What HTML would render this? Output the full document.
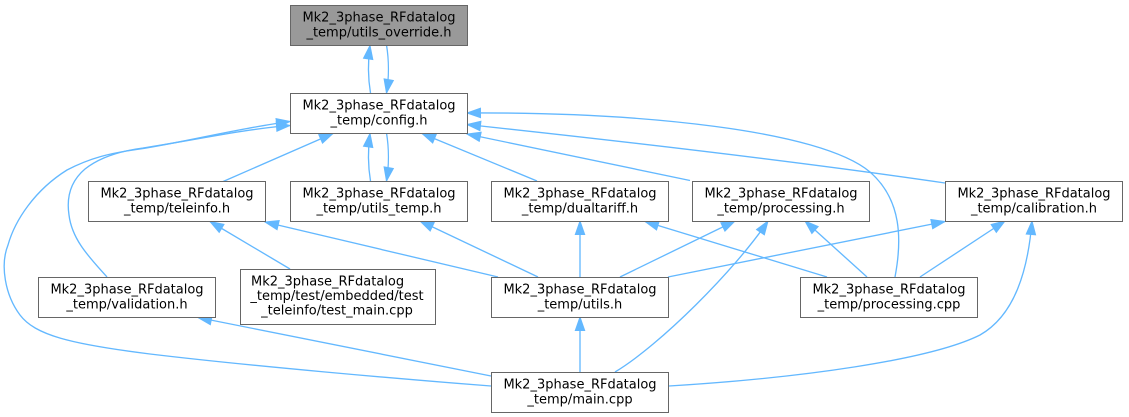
<!DOCTYPE html>
<html>
<head>
<meta charset="utf-8">
<style>
html,body{margin:0;padding:0;background:#fff;}
svg{display:block;}
text{font-family:"DejaVu Sans","Liberation Sans",sans-serif;font-size:13px;fill:#000;}
</style>
</head>
<body>
<svg width="1129" height="417" viewBox="0 0 1129 417" xmlns="http://www.w3.org/2000/svg">
<defs>
<marker id="a" markerWidth="16" markerHeight="12" refX="13.5" refY="4.7" orient="auto" markerUnits="userSpaceOnUse" overflow="visible">
<path d="M0,0 L13.5,4.7 L0,9.4 Z" fill="#63b8ff" stroke="#63b8ff" stroke-width="1"/>
</marker>
</defs>
<rect width="1129" height="417" fill="#fff"/>
<g fill="none" stroke="#63b8ff" stroke-width="1.33" marker-end="url(#a)">
<!-- config <-> utils_override -->
<path d="M370.5,93 C 368,78 368,60 370,45.5"/>
<path d="M386.5,45 C 389,60 389,78 386.5,93"/>
<!-- utils_temp <-> config -->
<path d="M370.5,181 C 368,166 368,148 370,133.5"/>
<path d="M386.5,133 C 389,148 389,166 386.5,181"/>
<!-- teleinfo -> config -->
<path d="M222,182 L333,133.5"/>
<!-- dualtariff -> config -->
<path d="M537,181 L422,133.5"/>
<!-- processing.h -> config -->
<path d="M690,180.5 L467,134"/>
<!-- calibration -> config -->
<path d="M945,183 Q 760,156 467,124.5"/>
<!-- processing.cpp -> config -->
<path d="M895,277 C 902,240 902,200 870,172 C 820,130 640,112 467,113"/>
<!-- validation -> config -->
<path d="M107,277 C 90,258 72,240 69,215 C 66,195 72,180 85,169 C 100,157 120,151 143,148 C 195,140 245,129 290,125.5"/>
<!-- main -> config -->
<path d="M491,386 C 400,379 250,366 150,354 C 70,344 35,335 20,315 C 5,295 0,265 8,245 C 15,220 35,190 67,170 C 90,158 110,153 140,149 C 190,141 240,128 290,121.5"/>
<!-- utils.h -> teleinfo -->
<path d="M498,277 L265,222"/>
<!-- test_main -> teleinfo -->
<path d="M290,269 L210,221.5"/>
<!-- utils.h -> utils_temp -->
<path d="M538,277 L420,221"/>
<!-- utils.h -> dualtariff -->
<path d="M580,277 L580,221"/>
<!-- utils.h -> processing.h -->
<path d="M620,277 L735,221"/>
<!-- utils.h -> calibration -->
<path d="M668,277 L945,221.5"/>
<!-- processing.cpp -> dualtariff -->
<path d="M827,277 L645,221.5"/>
<!-- processing.cpp -> processing.h -->
<path d="M867,277 L805,221"/>
<!-- processing.cpp -> calibration -->
<path d="M920,277 L1005,221"/>
<!-- main -> processing.h -->
<path d="M615,372 C 660,345 735,270 768,221"/>
<!-- main -> utils.h -->
<path d="M580,372 L580,317"/>
<!-- main -> validation -->
<path d="M491,376 L198,317.5"/>
<!-- main -> calibration -->
<path d="M669,386 C 800,378 930,360 980,335 C 1015,315 1028,270 1032,221"/>
</g>
<g stroke="#666666" stroke-width="1">
<rect x="290.5" y="5.5" width="177" height="40" fill="#999999"/>
<rect x="290.5" y="93.5" width="177" height="40" fill="#ffffff"/>
<rect x="88.5" y="181.5" width="177" height="40" fill="#ffffff"/>
<rect x="290.5" y="181.5" width="177" height="40" fill="#ffffff"/>
<rect x="491.5" y="181.5" width="177" height="40" fill="#ffffff"/>
<rect x="692.5" y="181.5" width="177" height="40" fill="#ffffff"/>
<rect x="945.5" y="181.5" width="177" height="40" fill="#ffffff"/>
<rect x="38.5" y="277.5" width="177" height="40" fill="#ffffff"/>
<rect x="240.5" y="269.5" width="195" height="55" fill="#ffffff"/>
<rect x="491.5" y="277.5" width="177" height="40" fill="#ffffff"/>
<rect x="800.5" y="277.5" width="177" height="40" fill="#ffffff"/>
<rect x="491.5" y="372.5" width="177" height="40" fill="#ffffff"/>
</g>
<g text-anchor="middle">
<text x="379" y="21.5">Mk2_3phase_RFdatalog</text>
<text x="379" y="36.5">_temp/utils_override.h</text>
<text x="379" y="109.5">Mk2_3phase_RFdatalog</text>
<text x="379" y="124.5">_temp/config.h</text>
<text x="177" y="197.5">Mk2_3phase_RFdatalog</text>
<text x="177" y="212.5">_temp/teleinfo.h</text>
<text x="379" y="197.5">Mk2_3phase_RFdatalog</text>
<text x="379" y="212.5">_temp/utils_temp.h</text>
<text x="580" y="197.5">Mk2_3phase_RFdatalog</text>
<text x="580" y="212.5">_temp/dualtariff.h</text>
<text x="781" y="197.5">Mk2_3phase_RFdatalog</text>
<text x="781" y="212.5">_temp/processing.h</text>
<text x="1034" y="197.5">Mk2_3phase_RFdatalog</text>
<text x="1034" y="212.5">_temp/calibration.h</text>
<text x="127" y="293.5">Mk2_3phase_RFdatalog</text>
<text x="127" y="308.5">_temp/validation.h</text>
<text x="251" y="285.5" text-anchor="start">Mk2_3phase_RFdatalog</text>
<text x="337" y="300">_temp/test/embedded/test</text>
<text x="337" y="314.5">_teleinfo/test_main.cpp</text>
<text x="580" y="293.5">Mk2_3phase_RFdatalog</text>
<text x="580" y="308.5">_temp/utils.h</text>
<text x="889" y="293.5">Mk2_3phase_RFdatalog</text>
<text x="889" y="308.5">_temp/processing.cpp</text>
<text x="580" y="388.5">Mk2_3phase_RFdatalog</text>
<text x="580" y="403.5">_temp/main.cpp</text>
</g>
</svg>
</body>
</html>
